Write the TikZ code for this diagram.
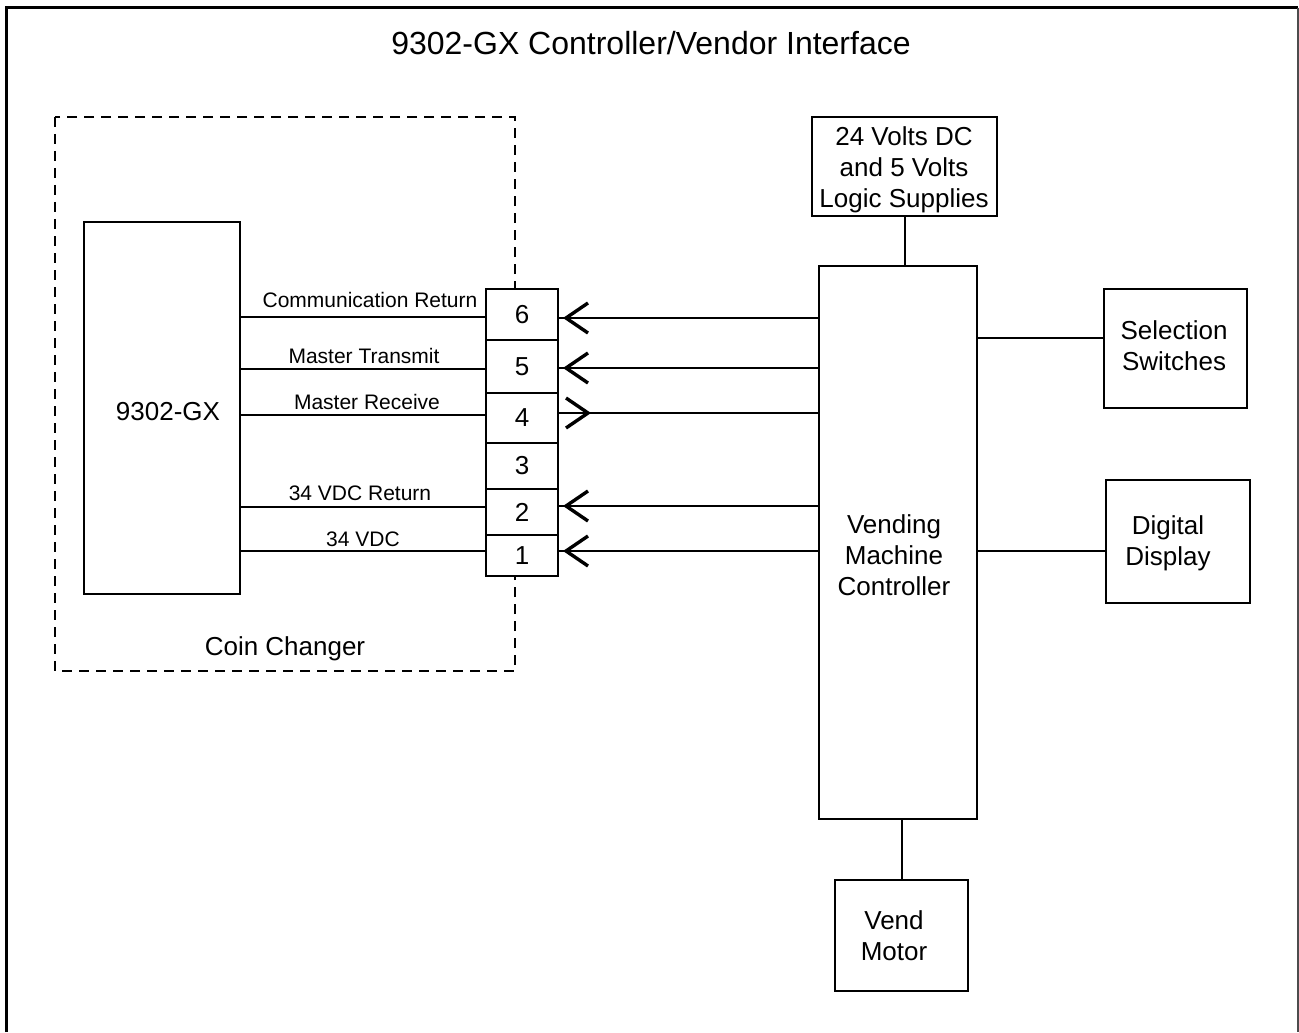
\documentclass[tikz,border=0pt]{standalone}
\usepackage{fontspec}
\setmainfont{Liberation Sans}
\usetikzlibrary{calc}
\begin{document}
\begin{tikzpicture}[x=0.5pt,y=-0.5pt,
  box/.style={draw, line width=1pt, inner sep=0pt, fill=white},
  txt/.style={inner sep=0pt, align=center, font=\fontsize{13}{15.5}\selectfont},
  cell/.style={draw, line width=1pt, inner sep=0pt, fill=white,
    minimum width=36pt, font=\fontsize{13}{15.5}\selectfont},
  lbl/.style={inner sep=0pt, font=\fontsize{10.5}{12}\selectfont},
  wire/.style={line width=1pt},
  chev/.style={line width=1.7pt, line join=miter},
  dashbox/.style={line width=1pt, dash pattern=on 5pt off 3.5pt}]
\useasboundingbox (0,0) rectangle (1299,1032);
% outer frame
\draw[line width=1.5pt] (6,1032) -- (6,8) -- (1298,8);
\draw[line width=1pt, black!70] (1297.5,8) -- (1297.5,1032);
\node[inner sep=0pt, font=\fontsize{16}{19}\selectfont] (title) at (651,43) {9302-GX Controller/Vendor Interface};
% coin changer dashed box
\draw[dashbox] (55,117) rectangle (515,671);
\node[txt] (cc) at (285,649) {Coin Changer};
% 9302-GX
\node[box, minimum width=78pt, minimum height=186pt] (gx) at (162,408) {};
\node[txt] (gxt) at (168,412) {9302-GX};
% connector cells
\node[cell, minimum height=25.5pt] (c6) at (522,314.5) {6};
\node[cell, minimum height=26.5pt] (c5) at (522,366.5) {5};
\node[cell, minimum height=25pt] (c4) at (522,418) {4};
\node[cell, minimum height=23pt] (c3) at (522,466) {3};
\node[cell, minimum height=23pt] (c2) at (522,512) {2};
\node[cell, minimum height=20.5pt] (c1) at (522,555.5) {1};
% wire end points on the connector
\coordinate (a6) at (c6.west |- 0,317);
\coordinate (a5) at (c5.west |- 0,369);
\coordinate (a4) at (c4.west |- 0,415);
\coordinate (a2) at (c2.west |- 0,507);
\coordinate (a1) at (c1.west |- 0,551);
\coordinate (b6) at (c6.east |- 0,318);
\coordinate (b5) at (c5.east |- 0,368);
\coordinate (b4) at (c4.east |- 0,413);
\coordinate (b2) at (c2.east |- 0,506);
\coordinate (b1) at (c1.east |- 0,551);
% right side blocks
\node[box, minimum width=79pt, minimum height=276.5pt] (vmc) at (898,542.5) {};
\node[txt] (vmct) at (894,555) {Vending\\Machine\\Controller};
\node[box, minimum width=92.5pt, minimum height=49.5pt] (psu) at (904.5,166.5) {};
\node[txt] (psut) at (904,170) {24 Volts DC\\and 5 Volts\\Logic Supplies};
\node[box, minimum width=71.5pt, minimum height=59.5pt] (sel) at (1175.5,348.5) {};
\node[txt] (selt) at (1174,345.5) {Selection\\Switches};
\node[box, minimum width=72pt, minimum height=61.5pt] (disp) at (1178,541.5) {};
\node[txt] (dispt) at (1168,543.5) {Digital\\Display};
\node[box, minimum width=66.5pt, minimum height=55.5pt] (motor) at (901.5,935.5) {};
\node[txt] (motort) at (894,935.5) {Vend\\Motor};
% wires coin changer side
\draw[wire] (a6 -| gx.east) -- (a6);
\draw[wire] (a5 -| gx.east) -- (a5);
\draw[wire] (a4 -| gx.east) -- (a4);
\draw[wire] (a2 -| gx.east) -- (a2);
\draw[wire] (a1 -| gx.east) -- (a1);
\node[lbl] (l6) at (370,300) {Communication Return};
\node[lbl] (l5) at (364,356) {Master Transmit};
\node[lbl] (l4) at (367,402) {Master Receive};
\node[lbl] (l2) at (360,493) {34 VDC Return};
\node[lbl] (l1) at (363,539) {34 VDC};
% wires controller side
\draw[wire] (vmc.west |- b6) -- (b6);
\draw[wire] (vmc.west |- b5) -- (b5);
\draw[wire] (vmc.west |- b4) -- (b4);
\draw[wire] (vmc.west |- b2) -- (b2);
\draw[wire] (vmc.west |- b1) -- (b1);
% chevrons
\foreach \c in {b6,b5,b2,b1}{
  \draw[chev] ($(\c)+(29,-15)$) -- ($(\c)+(7,0)$) -- ($(\c)+(29,15)$);
}
\draw[chev] ($(b4)+(7,-15)$) -- ($(b4)+(29,0)$) -- ($(b4)+(7,15)$);
% other connectors
\draw[wire] (psu.south) -- (psu.south |- vmc.north);
\coordinate (s1) at ($(sel.west)+(0,-10.5)$);
\draw[wire] (s1) -- (s1 -| vmc.east);
\coordinate (d1) at ($(disp.west)+(0,9.5)$);
\draw[wire] (d1) -- (d1 -| vmc.east);
\draw[wire] (motor.north) -- (motor.north |- vmc.south);
\end{tikzpicture}
\end{document}
